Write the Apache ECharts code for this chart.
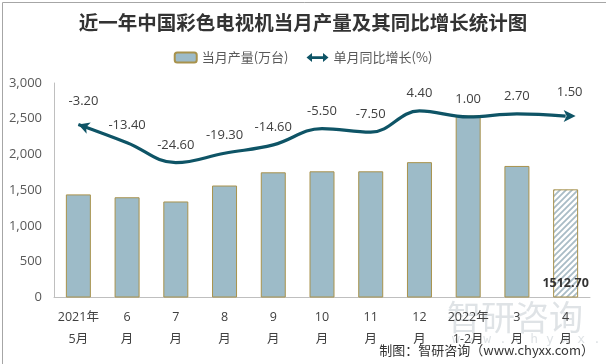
<!DOCTYPE html>
<html><head><meta charset="utf-8">
<script src="https://cdn.jsdelivr.net/npm/echarts@6/dist/echarts.min.js"></script>
<style>html,body{margin:0;padding:0;background:#fff}#c{width:606px;height:364px}</style>
</head><body><div id="c"></div>
<script>
const titleText = '近一年中国彩色电视机当月产量及其同比增长统计图';
const categories = ['2021年\n5月','6\n月','7\n月','8\n月','9\n月','10\n月','11\n月','12\n月','2022年\n1-2月','3\n月','4\n月'];
const production = [1442, 1402, 1343, 1566, 1751, 1765, 1765, 1893, 2545, 1840, 1512.7];
const growth = [-3.2, -13.4, -24.6, -19.3, -14.6, -5.5, -7.5, 4.4, 1.0, 2.7, 1.5];
const barName = '当月产量(万台)';
const lineName = '单月同比增长(%)';

const chart = echarts.init(document.getElementById('c'));

// hatch pattern
const pc = document.createElement('canvas');
pc.width = 6; pc.height = 6;
const ctx = pc.getContext('2d');
ctx.fillStyle = '#ffffff'; ctx.fillRect(0,0,6,6);
ctx.strokeStyle = '#a9bcc6'; ctx.lineWidth = 1.8;
ctx.beginPath();
ctx.moveTo(-1,7); ctx.lineTo(7,-1);
ctx.moveTo(-4,4); ctx.lineTo(4,-4);
ctx.moveTo(2,10); ctx.lineTo(10,2);
ctx.stroke();

const barColor = '#9dbbc8';
const barBorder = '#a8924c';
const lineColor = '#0e5466';

const barData = production.map((v,i)=> i === production.length-1 ? {
  value: v,
  itemStyle: {color: {image: pc, repeat: 'repeat'}, borderColor: barBorder, borderWidth: 1},
  label: {show: true, position: 'insideBottom', distance: 8, formatter: p => p.value.toFixed(2), color: '#333', fontWeight: 'bold', fontSize: 12.5, fontFamily: 'Open Sans, sans-serif'}
} : v);

const n = growth.length;
const lineData = growth.map((v,i)=>{
  if (i === 0) return {value: v, symbol: 'arrow', symbolSize: [9,11], symbolRotate: 70};
  if (i === n-1) return {value: v, symbol: 'path://M0,0 L12,6 L0,12 L3,6 Z', symbolSize: [12,12], symbolRotate: 0, symbolOffset: [4,0]};
  return {value: v, symbol: 'circle', symbolSize: 0.1};
});

chart.setOption({
  animation: false,
  backgroundColor: '#fff',
  textStyle: {fontFamily: 'Noto Sans CJK SC, sans-serif'},
  title: {
    text: titleText, left: 'center', top: 8,
    textStyle: {fontSize: 19.5, fontWeight: 'bold', color: '#333', fontFamily: 'Noto Sans CJK SC, serif'}
  },
  legend: {
    top: 46, left: 'center', itemGap: 18, itemWidth: 22, itemHeight: 10,
    textStyle: {fontSize: 13, color: '#595959'},
    data: [
      {name: barName},
      {name: lineName, icon: 'path://M0,5 L6,0 L6,3.5 L18,3.5 L18,0 L24,5 L18,10 L18,6.5 L6,6.5 L6,10 Z', itemStyle: {color: lineColor}}
    ]
  },
  grid: {left: 54, right: 16, top: 83, bottom: 66.5},
  xAxis: {
    type: 'category', data: categories,
    axisLine: {lineStyle: {color: '#bfbfbf'}},
    axisTick: {show: false},
    axisLabel: {color: '#404040', fontSize: 12.5, lineHeight: 22, margin: 9, interval: 0, fontFamily: 'Open Sans, Noto Sans CJK SC, sans-serif'}
  },
  yAxis: [
    {type: 'value', min: 0, max: 3000, interval: 500,
     axisLine: {show: true, lineStyle: {color: '#bfbfbf'}},
     splitLine: {show: false}, axisTick: {show: false},
     axisLabel: {color: '#595959', fontSize: 13, margin: 12, fontFamily: 'Open Sans, sans-serif',
       formatter: v => v.toLocaleString('en-US')}},
    {type: 'value', min: -100, max: 20, show: false, splitLine: {show: false}}
  ],
  series: [
    {name: barName, type: 'bar', data: barData, barWidth: 25,
     itemStyle: {color: barColor, borderColor: barBorder, borderWidth: 1}},
    {name: lineName, type: 'line', yAxisIndex: 1, data: lineData, smooth: 0.4,
     showSymbol: true, showAllSymbol: true,
     lineStyle: {color: lineColor, width: 3.2},
     itemStyle: {color: lineColor},
     label: {show: true, position: 'top', distance: 11, formatter: p => p.value.toFixed(2),
       color: '#404040', fontSize: 13, fontFamily: 'Open Sans, sans-serif'},
     labelLayout: {hideOverlap: false}}
  ],
  graphic: [
    {type: 'rect', left: 0, top: 0, shape: {x: 0.5, y: 0.5, width: 605, height: 363}, style: {fill: 'none', stroke: '#a6a6a6', lineWidth: 1}, silent: true},
    {type: 'text', left: 447, top: 300, z: -1, style: {text: '智研咨询', fontSize: 34, fill: '#dfe3e6', fontFamily: 'Noto Sans CJK SC, sans-serif'}},
    {type: 'text', left: 452, top: 333, z: -1, style: {text: 'w w w . c h y x x . c o m', fontSize: 13, fill: '#dfe3e6', fontFamily: 'DejaVu Sans Mono, monospace'}},
    {type: 'text', right: 12, top: 344, style: {text: '制图：智研咨询（www.chyxx.com）', fontSize: 13, fill: '#333', fontFamily: 'Noto Sans CJK SC, sans-serif'}}
  ]
});
</script></body></html>
